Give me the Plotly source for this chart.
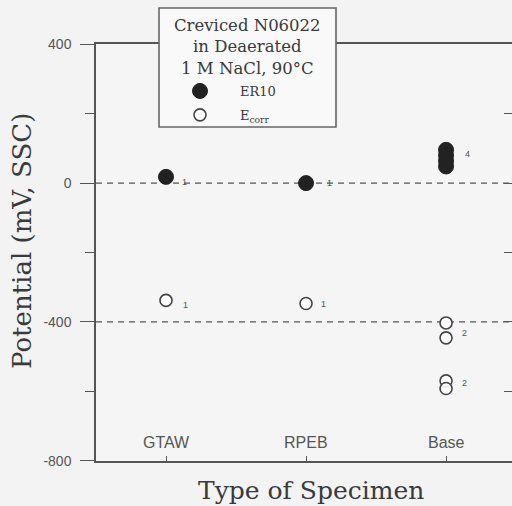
import plotly.graph_objects as go

# ---------------- data ----------------
categories = ["GTAW", "RPEB", "Base"]

er10_cat = ["GTAW", "RPEB", "Base", "Base", "Base", "Base"]
er10_mv = [18, 0, 96, 80, 64, 48]

ecorr_cat = ["GTAW", "RPEB", "Base", "Base", "Base", "Base"]
ecorr_mv = [-338, -347, -403, -446, -570, -592]

# count labels: (category, potential at label, count)
count_cat = ["GTAW", "RPEB", "Base", "GTAW", "RPEB", "Base", "Base"]
count_mv = [2, 0, 83, -352, -347, -431, -575]
count_txt = ["1", "1", "4", "1", "1", "2", "2"]
count_dx = [18, 23, 21, 19, 17, 18, 18]

y_major = [-800, -400, 0, 400]
y_labels = ["-800", "-400", "0", "400"]
ref_lines = [0, -400]

serif = "DejaVu Serif"
sans = "Liberation Sans"
ink = "#3a3a3a"
axis_col = "#555555"

fig = go.Figure()

fig.add_trace(go.Scatter(
    x=er10_cat, y=er10_mv, mode="markers", name="ER10",
    legendgroup="a",
    marker=dict(size=15, color="#222222", line=dict(color="#222222", width=1)),
))
fig.add_trace(go.Scatter(
    x=ecorr_cat, y=ecorr_mv, mode="markers", name="E<sub>corr</sub>",
    legendgroup="b",
    marker=dict(size=12, color="rgba(255,255,255,0.9)", line=dict(color="#444444", width=1.6)),
))

# secondary axis for inward ticks on right side
fig.add_trace(go.Scatter(x=[categories[0]], y=[None], yaxis="y2", showlegend=False,
                         hoverinfo="skip"))

shapes = []
for v in ref_lines:
    shapes.append(dict(type="line", xref="paper", x0=0, x1=1, yref="y", y0=v, y1=v,
                       line=dict(color="#555555", width=1.3, dash="6px,5px"), layer="below"))

# legend box (pixel -> paper conversion)
L, R, T, B = 96, 512, 44, 461
W, H = R - L, B - T
def px(xp):
    return (xp - L) / W
def py(yp):
    return (B - yp) / H

shapes.append(dict(type="rect", xref="paper", yref="paper",
                   x0=px(159), x1=px(336), y0=py(127), y1=py(8),
                   line=dict(color="#666666", width=1.6), fillcolor="#f9f9f9", layer="above"))

annotations = []
annotations.append(dict(
    xref="paper", yref="paper", x=px(247), y=py(14), xanchor="center", yanchor="top",
    text="Creviced N06022<br>in Deaerated<br>1 M NaCl, 90°C", showarrow=False, align="center",
    font=dict(family=serif, size=16.5, color=ink),
))
for c, v, t, dx in zip(count_cat, count_mv, count_txt, count_dx):
    annotations.append(dict(x=c, y=v, text=t, showarrow=False, xshift=dx,
                            font=dict(family=sans, size=9, color="#555555")))
# category labels inside the plot, just above the bottom axis
for c in categories:
    annotations.append(dict(x=c, y=0, yref="paper", text=c, showarrow=False,
                            yanchor="bottom", yshift=8,
                            font=dict(family=sans, size=16, color="#555555")))
# axis titles
annotations.append(dict(xref="paper", yref="paper", x=px(311), y=py(490), text="Type of Specimen",
                        showarrow=False, xanchor="center", yanchor="middle",
                        font=dict(family=serif, size=25, color=ink)))
annotations.append(dict(xref="paper", yref="paper", x=px(22), y=py(241), text="Potential (mV, SSC)",
                        showarrow=False, xanchor="center", yanchor="middle", textangle=-90,
                        font=dict(family=serif, size=26, color=ink)))

fig.update_layout(
    width=512, height=506,
    margin=dict(l=L, r=512 - R, t=T, b=506 - B),
    paper_bgcolor="#f3f3f3", plot_bgcolor="#f5f5f5",
    showlegend=True,
    legend=dict(x=px(160), y=py(76), xanchor="left", yanchor="top",
                bgcolor="rgba(0,0,0,0)", borderwidth=0, itemwidth=70,
                traceorder="grouped", tracegroupgap=4,
                font=dict(family=serif, size=13, color=ink)),
    xaxis=dict(type="category", categoryorder="array", categoryarray=categories,
               range=[-0.5, 2.471], showline=True, mirror=True, linecolor=axis_col, linewidth=1.5,
               ticks="inside", ticklen=5, tickcolor=axis_col, showticklabels=False,
               showgrid=False, zeroline=False),
    yaxis=dict(range=[-801, 401], tickmode="array", tickvals=y_major, ticktext=y_labels,
               showline=True, linecolor=axis_col,
               linewidth=1.5, ticks="outside", ticklen=14, tickcolor=axis_col, tickwidth=1.2,
               minor=dict(dtick=200, tick0=0, ticks="outside", ticklen=9, tickcolor=axis_col),
               tickfont=dict(family=sans, size=14, color="#555555"), ticklabelstandoff=6,
               showgrid=False, zeroline=False),
    yaxis2=dict(range=[-801, 401], overlaying="y", side="right", dtick=200, tick0=0,
                ticks="inside", ticklen=8, tickcolor=axis_col, showticklabels=False,
                showline=False, showgrid=False, zeroline=False),
    shapes=shapes, annotations=annotations,
)

fig.write_html("out.html")
